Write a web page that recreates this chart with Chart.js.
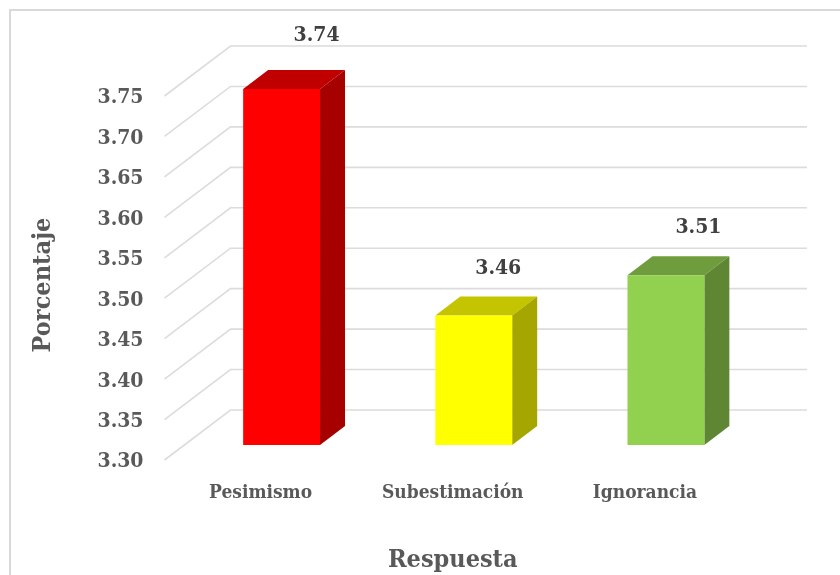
<!DOCTYPE html>
<html>
<head>
<meta charset="utf-8">
<title>Respuesta</title>
<script src="https://cdn.jsdelivr.net/npm/chart.js@4"></script>
<style>
  html, body { margin: 0; padding: 0; background: #fff; }
  canvas { display: block; }
</style>
</head>
<body>
<canvas id="respChart" width="840" height="575"></canvas>
<script>
var categories = ['Pesimismo', 'Subestimación', 'Ignorancia'];
var values = [3.74, 3.46, 3.51];
var yTicks = [3.30, 3.35, 3.40, 3.45, 3.50, 3.55, 3.60, 3.65, 3.70, 3.75];

var frontColors = ['#ff0000', '#ffff00', '#92d050'];
var topColors = ['#c00000', '#c4c400', '#6f9c3d'];
var sideColors = ['#a60000', '#a6a600', '#5f8733'];

var serif = "'DejaVu Serif Condensed', 'DejaVu Serif', serif";

// fake 3d: walls go back by wallX/wallY, bars sit a bit in front of the back wall
var wallX = 66, wallY = 50;
var barX = 21, barY = 15;
var depthX = 25, depthY = 19;
// the data labels were dragged by hand in the original
var labelShift = [[35, -54], [24.5, -47], [32.5, -48]];

var walls3d = {
  id: 'walls3d',
  beforeDraw: function (chart) {
    var c = chart.ctx;
    c.save();
    c.strokeStyle = '#d9d9d9';
    c.lineWidth = 2;
    c.beginPath();
    c.moveTo(10, 575);
    c.lineTo(10, 10);
    c.lineTo(840, 10);
    c.stroke();
    c.restore();
  },
  beforeDatasetsDraw: function (chart) {
    var c = chart.ctx, area = chart.chartArea, y = chart.scales.y;
    c.save();
    c.strokeStyle = '#dcdcdc';
    c.lineWidth = 1.6;
    yTicks.forEach(function (v) {
      var py = y.getPixelForValue(v);
      c.beginPath();
      c.moveTo(area.left, py);
      c.lineTo(area.left + wallX, py - wallY);
      c.lineTo(area.right + wallX, py - wallY);
      c.stroke();
    });
    c.restore();
  },
  beforeDatasetDraw: function (chart, args) {
    var c = chart.ctx;
    c.save();
    c.translate(barX, -barY);
    args.meta.data.forEach(function (bar, i) {
      var r = bar.x + bar.width / 2, l = bar.x - bar.width / 2;
      c.fillStyle = topColors[i];
      c.beginPath();
      c.moveTo(l, bar.y);
      c.lineTo(l + depthX, bar.y - depthY);
      c.lineTo(r + depthX, bar.y - depthY);
      c.lineTo(r, bar.y);
      c.closePath();
      c.fill();
      c.fillStyle = sideColors[i];
      c.beginPath();
      c.moveTo(r, bar.y);
      c.lineTo(r + depthX, bar.y - depthY);
      c.lineTo(r + depthX, bar.base - depthY);
      c.lineTo(r, bar.base);
      c.closePath();
      c.fill();
    });
  },
  afterDatasetDraw: function (chart, args) {
    var c = chart.ctx;
    c.restore();
    c.save();
    c.font = 'bold 21px ' + serif;
    c.fillStyle = '#404040';
    c.textAlign = 'center';
    c.textBaseline = 'middle';
    args.meta.data.forEach(function (bar, i) {
      c.fillText(values[i].toFixed(2), bar.x + barX + labelShift[i][0], bar.y - barY + labelShift[i][1]);
    });
    c.restore();
  }
};

document.addEventListener('DOMContentLoaded', function () {
  var ctx = document.getElementById('respChart').getContext('2d');
  new Chart(ctx, {
    type: 'bar',
    data: {
      labels: categories,
      datasets: [{
        label: 'Porcentaje',
        data: values,
        base: yTicks[0],
        backgroundColor: frontColors,
        barPercentage: 0.4,
        categoryPercentage: 1,
        clip: false
      }]
    },
    options: {
      responsive: false,
      animation: false,
      layout: { padding: { top: 96, right: 99, bottom: 0, left: 0 } },
      plugins: {
        legend: { display: false },
        tooltip: { enabled: false }
      },
      scales: {
        x: {
          grid: { display: false, drawTicks: false },
          border: { display: false },
          ticks: { color: '#595959', font: { family: serif, size: 19, weight: 'bold' }, padding: 22, maxRotation: 0 },
          title: { display: true, text: 'Respuesta', color: '#595959', font: { family: serif, size: 25, weight: 'bold' }, padding: { top: 20, bottom: 0 } },
          afterFit: function (scale) { scale.height = 115; }
        },
        y: {
          min: 3.30,
          max: 3.75,
          grid: { display: false, drawTicks: false },
          border: { display: false },
          afterBuildTicks: function (scale) {
            scale.ticks = yTicks.map(function (v) { return { value: v }; });
          },
          ticks: {
            color: '#595959',
            font: { family: serif, size: 21, weight: 'bold' },
            padding: 21,
            labelOffset: 2,
            callback: function (v) { return Number(v).toFixed(2); }
          },
          title: { display: true, text: 'Porcentaje', color: '#595959', font: { family: serif, size: 25, weight: 'bold' }, padding: { top: 0, bottom: 0 } },
          afterFit: function (scale) {
            scale.width = 164.5;
            // original title sits a little under the middle of the axis
            if (!scale.hasOwnProperty('drawTitle')) {
              var draw = scale.drawTitle;
              scale.drawTitle = function () {
                scale.ctx.save();
                scale.ctx.translate(28, 7);
                draw.call(scale);
                scale.ctx.restore();
              };
            }
          }
        }
      }
    },
    plugins: [walls3d]
  });
});
</script>
</body>
</html>
